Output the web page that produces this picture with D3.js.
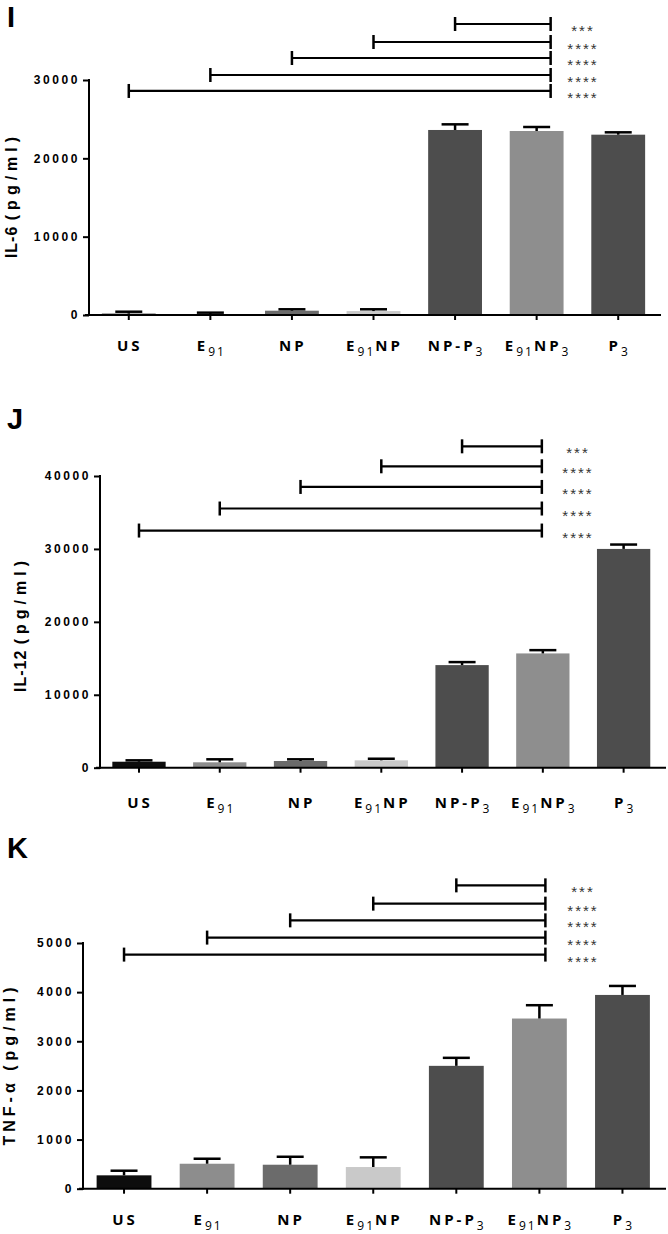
<!DOCTYPE html>
<html><head><meta charset="utf-8">
<script src="https://cdn.jsdelivr.net/npm/d3@7"></script>
<style>body{margin:0;background:#fff} svg{display:block}</style>
</head><body>
<svg id="chart" width="668" height="1234"></svg>
<script>
// ---------- data ----------
const categories = ["US","E91","NP","E91NP","NP-P3","E91NP3","P3"];
// label pieces: [text, isSubscript]
const categoryLabels = [
  [["US",0]],
  [["E",0],["91",1]],
  [["NP",0]],
  [["E",0],["91",1],["NP",0]],
  [["NP-P",0],["3",1]],
  [["E",0],["91",1],["NP",0],["3",1]],
  [["P",0],["3",1]]
];
const barColors = ["#0d0d0d","#8d8d8d","#6b6b6b","#c9c9c9","#4d4d4d","#8e8e8e","#4d4d4d"];

const il6Mean  = [170, 100, 550, 500, 23620, 23490, 23020];
const il6Err   = [250, 200, 180, 230, 720, 510, 300];
const il12Mean = [820, 740, 920, 1010, 14070, 15670, 30000];
const il12Err  = [190, 410, 230, 220, 410, 450, 600];
const tnfMean  = [272, 508, 488, 441, 2500, 3463, 3943];
const tnfErr   = [94, 102, 162, 197, 163, 271, 183];

const il6Ticks  = [0, 10000, 20000, 30000];
const il12Ticks = [0, 10000, 20000, 30000, 40000];
const tnfTicks  = [0, 1000, 2000, 3000, 4000, 5000];

// significance comparisons (bottom to top), all against E91NP3
const sigFrom   = ["US","E91","NP","E91NP","NP-P3"];
const sigTo     = "E91NP3";
const sigLabels = ["****","****","****","****","***"];
const il6SigLevels  = [28600, 30640, 32810, 34850, 37150];
const il12SigLevels = [32520, 35540, 38500, 41330, 44070];
const tnfSigLevels  = [4764, 5110, 5461, 5801, 6173];

const panelLetters = ["I","J","K"];
const yTitles = [
  [["IL-6 ",1],["(pg/ml)",5]],
  [["IL-12 ",1],["(pg/ml)",5]],
  [["TNF-α ",4],["(pg/ml)",5]]
];

// ---------- layout ----------
const layouts = [
  {top:80,  zero:315,   x0:88,   x1:659, axisX:89,  axisEnd:661, letterY:27,  labelDy:36, titleX:17, titleY:195,  starX:582, rShift:14},
  {top:476, zero:767.7, x0:98.6, x1:664, axisX:100, axisEnd:666, letterY:429, labelDy:40, titleX:26, titleY:624,  starX:577, rShift:-1},
  {top:943, zero:1188.7,x0:82.5, x1:664, axisX:83,  axisEnd:666, letterY:858, labelDy:36, titleX:15, titleY:1064, starX:582, rShift:6}
];

const panels = [
  {mean:il6Mean,  err:il6Err,  ticks:il6Ticks,  sig:il6SigLevels},
  {mean:il12Mean, err:il12Err, ticks:il12Ticks, sig:il12SigLevels},
  {mean:tnfMean,  err:tnfErr,  ticks:tnfTicks,  sig:tnfSigLevels}
];

const svg = d3.select("#chart");

panels.forEach((p, pi) => {
  const L = layouts[pi];
  const g = svg.append("g");
  const x = d3.scaleBand().domain(categories).range([L.x0, L.x1]).paddingInner(0.34).paddingOuter(0.17);
  const y = d3.scaleLinear().domain([0, d3.max(p.ticks)]).range([L.zero, L.top]);
  const cx = c => x(c) + x.bandwidth()/2;

  // panel letter
  g.append("text").attr("x", 7).attr("y", L.letterY)
    .attr("font-family","Liberation Sans, Arial, sans-serif").attr("font-weight","bold")
    .attr("font-size", 29).text(panelLetters[pi]);

  // bars
  g.selectAll("rect.bar").data(categories).enter().append("rect")
    .attr("x", c => x(c)).attr("width", x.bandwidth())
    .attr("y", (c,i) => y(p.mean[i])).attr("height", (c,i) => L.zero - y(p.mean[i]))
    .attr("fill", (c,i) => barColors[i]);

  // error bars (upper only)
  const eb = g.selectAll("g.err").data(categories).enter().append("g");
  eb.append("line").attr("x1", c => cx(c)).attr("x2", c => cx(c))
    .attr("y1", (c,i) => y(p.mean[i])).attr("y2", (c,i) => y(p.mean[i] + p.err[i]))
    .attr("stroke","#000").attr("stroke-width",2.5);
  eb.append("line").attr("x1", c => cx(c) - 13.5).attr("x2", c => cx(c) + 13.5)
    .attr("y1", (c,i) => y(p.mean[i] + p.err[i])).attr("y2", (c,i) => y(p.mean[i] + p.err[i]))
    .attr("stroke","#000").attr("stroke-width",2.5);

  // y axis
  const yAxis = g.append("g").attr("transform", `translate(${L.axisX},0)`)
    .call(d3.axisLeft(y).tickValues(p.ticks).tickSize(6).tickPadding(3).tickFormat(d3.format("d")));
  yAxis.select(".domain").remove();
  yAxis.selectAll(".tick line").attr("stroke","#000").attr("stroke-width",2);
  yAxis.selectAll(".tick text").attr("font-family","Liberation Sans, Arial, sans-serif")
    .attr("font-weight","bold").attr("font-size",12).attr("letter-spacing","2.6px").attr("fill","#000");
  g.append("line").attr("x1", L.axisX).attr("x2", L.axisX).attr("y1", L.zero + 1).attr("y2", y(d3.max(p.ticks)) - 1)
    .attr("stroke","#000").attr("stroke-width",2);

  // x axis
  const xAxis = g.append("g").attr("transform", `translate(0,${L.zero})`)
    .call(d3.axisBottom(x).tickSize(5).tickSizeOuter(0).tickFormat(""));
  xAxis.select(".domain").remove();
  xAxis.selectAll(".tick line").attr("stroke","#000").attr("stroke-width",2);
  g.append("line").attr("x1", L.axisX - 4).attr("x2", L.axisEnd).attr("y1", L.zero).attr("y2", L.zero)
    .attr("stroke","#000").attr("stroke-width",2);

  // x labels
  const lab = g.selectAll("text.xl").data(categories).enter().append("text")
    .attr("x", c => cx(c) + 1).attr("y", L.zero + L.labelDy)
    .attr("text-anchor","middle").attr("font-family","Open Sans, sans-serif").attr("fill","#000");
  lab.each(function(c, i) {
    const t = d3.select(this);
    let shifted = false;
    categoryLabels[i].forEach(([s, sub]) => {
      const ts = t.append("tspan").text(s);
      if (sub) {
        ts.attr("font-size",12).attr("font-weight","normal").attr("letter-spacing","2px")
          .attr("dy", shifted ? 0 : 5);
        shifted = true;
      } else {
        ts.attr("font-size",15).attr("font-weight","bold").attr("letter-spacing","3px")
          .attr("dy", shifted ? -5 : 0);
        shifted = false;
      }
    });
  });

  // y title
  const tt = g.append("text").attr("transform", `translate(${L.titleX},${L.titleY}) rotate(-90)`)
    .attr("text-anchor","middle").attr("font-family","Liberation Sans, Arial, sans-serif")
    .attr("font-weight","bold").attr("font-size",16).attr("fill","#000");
  yTitles[pi].forEach(([s, ls]) => tt.append("tspan").attr("letter-spacing", ls + "px").text(s));

  // significance brackets
  const xr = cx(sigTo) + L.rShift;
  sigFrom.forEach((f, k) => {
    const yy = y(p.sig[k]);
    const xl = cx(f);
    g.append("line").attr("x1", xl).attr("x2", xr).attr("y1", yy).attr("y2", yy)
      .attr("stroke","#000").attr("stroke-width",2.2);
    g.append("line").attr("x1", xl).attr("x2", xl).attr("y1", yy - 7).attr("y2", yy + 7)
      .attr("stroke","#000").attr("stroke-width",2.5);
    g.append("line").attr("x1", xr).attr("x2", xr).attr("y1", yy - 7).attr("y2", yy + 7)
      .attr("stroke","#000").attr("stroke-width",2.5);
    g.append("text").attr("x", L.starX + 1).attr("y", yy + 12).attr("text-anchor","middle")
      .attr("font-family","Liberation Sans, Arial, sans-serif").attr("font-size",15).attr("letter-spacing","2px")
      .attr("fill","#333").text(sigLabels[k]);
  });
});
</script>
</body></html>
